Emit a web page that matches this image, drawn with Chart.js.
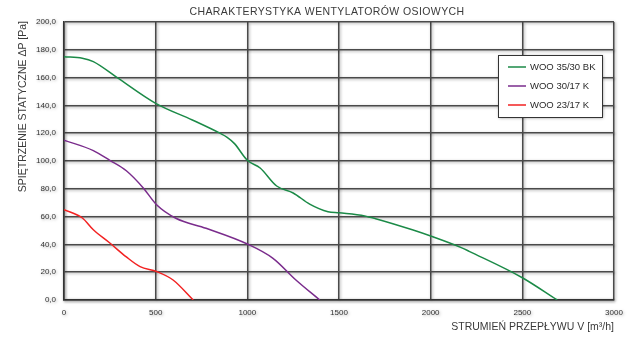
<!DOCTYPE html>
<html>
<head>
<meta charset="utf-8">
<script src="https://cdn.jsdelivr.net/npm/chart.js@4.4.1/dist/chart.umd.min.js"></script>
<style>
    html, body { margin: 0; padding: 0; background: #fff; }
    #wrap { width: 640px; height: 340px; }
</style>
</head>
<body>
<div id="wrap"><canvas id="fanChart" width="640" height="340"></canvas></div>
<script>
const chartTitle = "CHARAKTERYSTYKA WENTYLATORÓW OSIOWYCH";
const xTitle = "STRUMIEŃ PRZEPŁYWU V [m³/h]";
const yTitle = "SPIĘTRZENIE STATYCZNE ΔP [Pa]";
const seriesNames = ["WOO 35/30 BK", "WOO 30/17 K", "WOO 23/17 K"];

const woo3530Flow = [0, 100, 160, 290, 500, 700, 850, 890, 930, 1000, 1070, 1160, 1250, 1340, 1440, 1500, 1640, 1700, 1900, 2000, 2170, 2210, 2500, 2690];
const woo3530Press = [175, 174, 171.5, 160, 141.5, 129.5, 120, 117, 112.5, 100.5, 95, 82, 77, 69, 63.5, 62.7, 60.5, 58.5, 50.5, 46, 37.5, 35, 16, 0];

const woo3017Flow = [0, 160, 250, 340, 430, 505, 610, 775, 1000, 1140, 1265, 1395];
const woo3017Press = [115, 107.5, 100.5, 93, 81, 68.5, 58.8, 51.6, 40.3, 30, 14.4, 0];

const woo2317Flow = [0, 100, 160, 250, 340, 415, 505, 595, 705];
const woo2317Press = [65, 59, 50.5, 41, 31, 24, 20.5, 14.4, 0];

const xTicks = [0, 500, 1000, 1500, 2000, 2500, 3000];
const yTicks = [0, 20, 40, 60, 80, 100, 120, 140, 160, 180, 200];

const lineColors = ["#1b8a47", "#7a2c8c", "#f22222"];

const FONT = "'Liberation Sans', Arial, sans-serif";

function toPoints(xs, ys) {
    return xs.map((x, i) => ({ x: x, y: ys[i] }));
}

function fmtComma(v) {
    return Number(v).toFixed(1).replace(".", ",");
}

// grid + tick labels get a soft grey shadow like the original
const shadowPlugin = {
    id: "shadow",
    beforeDraw(chart) {
        const ctx = chart.ctx;
        ctx.save();
        ctx.shadowColor = "rgba(0,0,0,0.35)";
        ctx.shadowBlur = 3;
        ctx.shadowOffsetX = 1;
        ctx.shadowOffsetY = 1;
    },
    beforeDatasetsDraw(chart) {
        chart.ctx.restore();
    }
};

const textPlugin = {
    id: "texts",
    afterDraw(chart) {
        const ctx = chart.ctx;
        const area = chart.chartArea;
        ctx.save();
        ctx.fillStyle = "#3a3a3a";
        ctx.textBaseline = "middle";

        ctx.font = "10.5px " + FONT;
        ctx.letterSpacing = "0.4px";
        ctx.textAlign = "center";
        ctx.fillText(chartTitle, 327, 12);
        ctx.letterSpacing = "0px";

        ctx.font = "10.5px " + FONT;
        ctx.textAlign = "right";
        ctx.fillText(xTitle, area.right, 327);

        ctx.save();
        ctx.translate(23, area.top - 1);
        ctx.rotate(-Math.PI / 2);
        ctx.textAlign = "right";
        ctx.fillText(yTitle, 0, 0);
        ctx.restore();

        // legend box
        const bx = 498, by = 55, bw = 104, bh = 62;
        ctx.shadowColor = "rgba(0,0,0,0.4)";
        ctx.shadowBlur = 3;
        ctx.shadowOffsetX = 1;
        ctx.shadowOffsetY = 1;
        ctx.fillStyle = "#fff";
        ctx.fillRect(bx, by, bw, bh);
        ctx.shadowColor = "transparent";
        ctx.strokeStyle = "#333";
        ctx.lineWidth = 1;
        ctx.strokeRect(bx + 0.5, by + 0.5, bw, bh);

        ctx.font = "9.5px " + FONT;
        ctx.textAlign = "left";
        chart.data.datasets.forEach((ds, i) => {
            const ly = by + 12 + i * 19;
            ctx.strokeStyle = ds.borderColor;
            ctx.lineWidth = 1.5;
            ctx.beginPath();
            ctx.moveTo(bx + 10, ly);
            ctx.lineTo(bx + 28, ly);
            ctx.stroke();
            ctx.fillStyle = "#2a2a2a";
            ctx.fillText(ds.label, bx + 32, ly);
        });
        ctx.restore();
    }
};

const datasets = [
    [woo3530Flow, woo3530Press],
    [woo3017Flow, woo3017Press],
    [woo2317Flow, woo2317Press]
].map((pair, i) => ({
    label: seriesNames[i],
    data: toPoints(pair[0], pair[1]),
    borderColor: lineColors[i],
    backgroundColor: lineColors[i],
    borderWidth: 1.5,
    pointRadius: 0,
    showLine: true,
    fill: false,
    cubicInterpolationMode: "monotone"
}));

const ctx = document.getElementById("fanChart").getContext("2d");
new Chart(ctx, {
    type: "scatter",
    data: { datasets },
    options: {
        responsive: false,
        animation: false,
        layout: { padding: { top: 22, right: 26, left: 0, bottom: 0 } },
        plugins: {
            legend: { display: false },
            title: { display: false },
            tooltip: { enabled: false }
        },
        scales: {
            x: {
                type: "linear",
                min: 0,
                max: 3000,
                afterBuildTicks: scale => { scale.ticks = xTicks.map(v => ({ value: v })); },
                afterFit: scale => { scale.height = 40; },
                ticks: {
                    color: "#333",
                    padding: 8,
                    maxRotation: 0,
                    callback: v => String(v),
                    font: { size: 8, family: FONT }
                },
                grid: { color: "#4a4a4a", lineWidth: 1.5, drawTicks: false },
                border: { color: "#333", width: 1.5 }
            },
            y: {
                min: 0,
                max: 200,
                afterBuildTicks: scale => { scale.ticks = yTicks.map(v => ({ value: v })); },
                afterFit: scale => { scale.width = 64; },
                ticks: {
                    color: "#333",
                    padding: 8,
                    callback: v => fmtComma(v),
                    font: { size: 8, family: FONT }
                },
                grid: { color: "#4a4a4a", lineWidth: 1.5, drawTicks: false },
                border: { color: "#333", width: 1.5 }
            }
        }
    },
    plugins: [shadowPlugin, textPlugin]
});
</script>
</body>
</html>
